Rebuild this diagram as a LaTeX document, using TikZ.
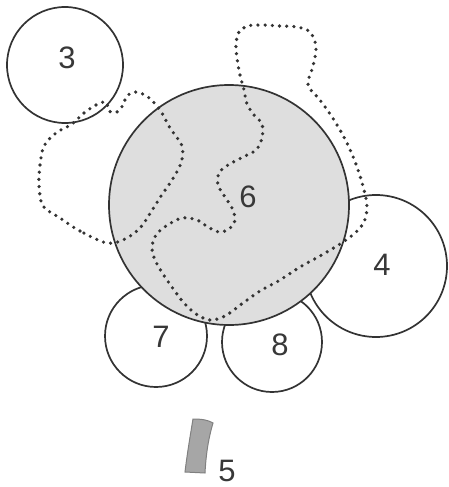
\documentclass[tikz,border=0pt]{standalone}
\usepackage{fontspec}
\setmainfont{Liberation Sans}
\begin{document}
\begin{tikzpicture}[x=1pt,y=-1pt,
  ring/.style={circle,draw=black!80,line width=1.7pt,fill=white,inner sep=0pt},
  bigring/.style={ring,fill=black!13},
  num/.style={font=\fontsize{31}{31}\selectfont,text=black!78,inner sep=0pt},
  dots/.style={draw=black!80,line width=3.6pt,line cap=round,dash pattern=on 0pt off 7.2pt}]
\useasboundingbox (0,0) rectangle (448,487);
\node[ring,minimum size=142pt] (c4) at (376,266) {};
\node[ring,minimum size=102pt] (c7) at (156,336) {};
\node[ring,minimum size=100pt] (c8) at (272,342) {};
\node[ring,minimum size=116pt] (c3) at (65,65) {};
\node[bigring,minimum size=240pt] (c6) at (229,205) {};
% left dotted region
\draw[dots] plot[smooth cycle,tension=0.55] coordinates {
 (107,243) (80,231) (60,218) (43,206) (39,185) (40,165) (44,146) (56,133)
 (72,124) (84,113) (96,105) (106,102) (109,111) (117,112) (123,105) (127,96)
 (136,92) (148,97) (160,110) (170,128) (182,146) (181,163) (172,180)
 (161,196) (151,212) (140,228) (125,239)};
% central dotted region
\draw[dots] plot[smooth cycle,tension=0.55] coordinates {
 (244,90) (240,75) (237,58) (236,44) (239,32) (248,26) (262,25) (280,26)
 (297,27) (310,32) (316,47) (313,66) (308,85) (320,100) (334,120) (347,143)
 (357,167) (364,190) (367,207) (364,222) (355,233) (340,244) (320,256)
 (300,267) (280,280) (260,291) (243,303) (225,316) (210,320) (196,314)
 (184,303) (174,290) (163,274) (155,260) (152,247) (156,235) (166,226)
 (182,218) (197,220) (208,227) (219,232) (229,229) (235,220) (232,208)
 (225,197) (218,185) (219,173) (228,165) (243,157) (256,150) (262,138)
 (262,124) (254,115) (247,104)};
% item 5
\path[fill=black!35,draw=black!50,line width=1pt] (193,419) .. controls (202,419) and (208,420) .. (213,423)
  .. controls (208,440) and (206,455) .. (205,473)
  -- (185,472) .. controls (187,455) and (190,437) .. cycle;
\node[num] (t3) at (67,58) {3};
\node[num] (t6) at (248,197) {6};
\node[num] (t4) at (382,265) {4};
\node[num] (t7) at (161,337) {7};
\node[num] (t8) at (280,345) {8};
\node[num] (t5) at (227,471) {5};
\end{tikzpicture}
\end{document}
